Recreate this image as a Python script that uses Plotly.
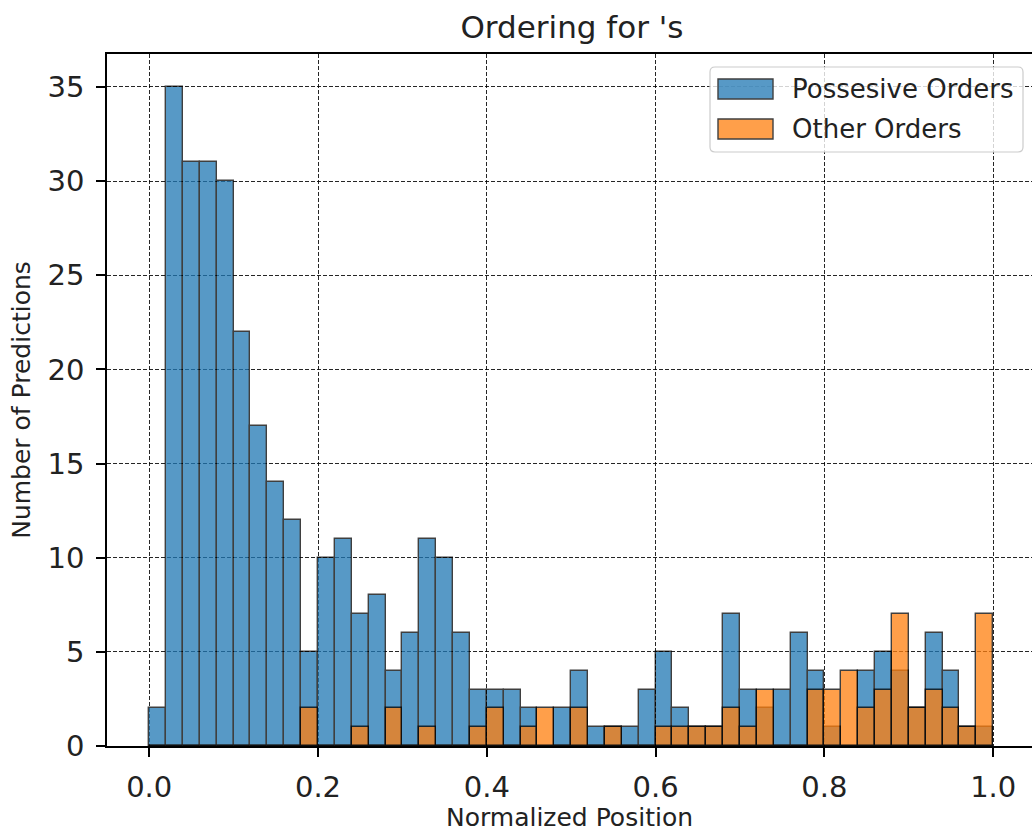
import numpy as np
import plotly.graph_objects as go

# Histogram bins: 50 equal bins over [0, 1]
bin_edges = np.linspace(0.0, 1.0, 51)
bin_width = 0.02

possessive_counts = [2, 35, 31, 31, 30, 22, 17, 14, 12, 5,
                     10, 11, 7, 8, 4, 6, 11, 10, 6, 3,
                     3, 3, 2, 0, 2, 4, 1, 1, 1, 3,
                     5, 2, 1, 1, 7, 3, 2, 3, 6, 4,
                     1, 0, 4, 5, 4, 2, 6, 4, 1, 1]
other_counts = [0, 0, 0, 0, 0, 0, 0, 0, 0, 2,
                0, 0, 1, 0, 2, 0, 1, 0, 0, 1,
                2, 0, 1, 2, 0, 2, 0, 1, 0, 0,
                1, 1, 1, 1, 2, 1, 3, 0, 0, 3,
                3, 4, 2, 3, 7, 2, 3, 2, 1, 7]

series_names = ["Possesive Orders", "Other Orders"]
series_colors = ["#1f77b4", "#ff7f0e"]
x_ticks = [0.0, 0.2, 0.4, 0.6, 0.8, 1.0]
y_ticks = [0, 5, 10, 15, 20, 25, 30, 35]

centers = (bin_edges[:-1] + bin_edges[1:]) / 2

W, H = 1032, 832
ML, MT, MB, MR = 107, 54, 86, 0
plot_w = W - ML - MR
plot_h = H - MT - MB

fig = go.Figure()
for name, counts, color in zip(series_names, [possessive_counts, other_counts], series_colors):
    fig.add_trace(go.Bar(
        x=centers, y=counts, width=bin_width, name=name,
        marker=dict(color=color, line=dict(color="black", width=1.4)),
        opacity=0.75, showlegend=False,
    ))

FONT = "DejaVu Sans"
TEXT = "#222"

# pixel -> paper helpers for the legend box
def px(xp):
    return (xp - ML) / plot_w

def py(yp):
    return (H - MB - yp) / plot_h

# legend frame with rounded corners
x0, x1, y0, y1, r = 710, 1023, 67, 152, 5
path = (f"M{px(x0 + r)},{py(y0)} L{px(x1 - r)},{py(y0)} "
        f"Q{px(x1)},{py(y0)} {px(x1)},{py(y0 + r)} "
        f"L{px(x1)},{py(y1 - r)} Q{px(x1)},{py(y1)} {px(x1 - r)},{py(y1)} "
        f"L{px(x0 + r)},{py(y1)} Q{px(x0)},{py(y1)} {px(x0)},{py(y1 - r)} "
        f"L{px(x0)},{py(y0 + r)} Q{px(x0)},{py(y0)} {px(x0 + r)},{py(y0)} Z")
shapes = [dict(type="path", path=path, xref="paper", yref="paper",
               fillcolor="rgba(255,255,255,0.8)", line=dict(color="#cccccc", width=1.2),
               layer="above")]
annotations = []
for i, (name, color) in enumerate(zip(series_names, series_colors)):
    sy0, sy1 = 79 + i * 40, 99 + i * 40
    shapes.append(dict(type="rect", xref="paper", yref="paper",
                       x0=px(718), x1=px(773), y0=py(sy1), y1=py(sy0),
                       fillcolor=color, opacity=0.75,
                       line=dict(color="black", width=1.4), layer="above"))
    annotations.append(dict(text=name, xref="paper", yref="paper",
                            x=px(790), y=py((sy0 + sy1) / 2), xanchor="left", yanchor="middle",
                            showarrow=False, font=dict(family=FONT, size=26, color=TEXT)))

axis_common = dict(
    showline=True, linecolor="black", linewidth=1.5,
    ticks="outside", ticklen=9, tickwidth=1.5, tickcolor="black",
    showgrid=True, gridcolor="rgba(0,0,0,0.85)", gridwidth=1, griddash="4px,2px",
    zeroline=False, layer="above traces",
    tickfont=dict(family=FONT, size=29, color=TEXT),
)

fig.update_layout(
    width=W, height=H,
    margin=dict(l=ML, r=MR, t=MT, b=MB, pad=0),
    paper_bgcolor="white", plot_bgcolor="white",
    barmode="overlay", bargap=0,
    title=dict(text="Ordering for 's", x=px(572), xref="paper", xanchor="center",
               y=1 - 27 / H, yref="container", yanchor="middle",
               font=dict(family=FONT, size=31, color=TEXT)),
    xaxis=dict(range=[-0.05, -0.05 + plot_w / 844], tickvals=x_ticks,
               ticktext=[f"{v:.1f}" for v in x_ticks], mirror=True,
               ticklabelstandoff=5,
               title=dict(text="Normalized Position", standoff=8,
                          font=dict(family=FONT, size=25, color=TEXT)),
               **axis_common),
    yaxis=dict(range=[0, 36.75], tickvals=y_ticks, ticklabelstandoff=6,
               title=dict(text="Number of Predictions", standoff=10,
                          font=dict(family=FONT, size=25, color=TEXT)),
               **axis_common),
    shapes=shapes, annotations=annotations,
)

fig.write_html("out.html")
